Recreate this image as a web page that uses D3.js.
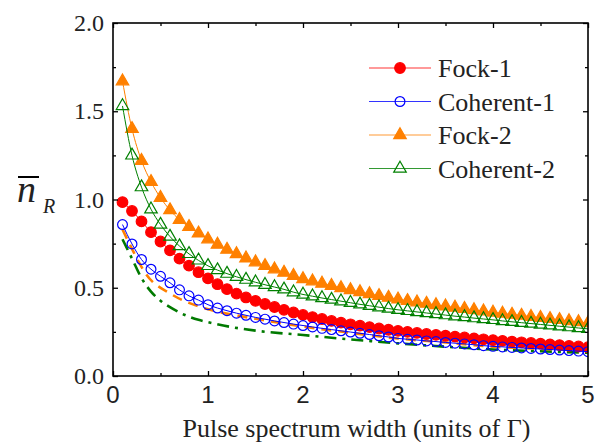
<!DOCTYPE html>
<html>
<head>
<meta charset="utf-8">
<script src="https://cdn.jsdelivr.net/npm/d3@7"></script>
<style>
  html, body { margin: 0; padding: 0; background: #fff; }
  svg { display: block; }
</style>
</head>
<body>
<svg id="chart" width="606" height="442"></svg>
<script>
// pulse widths 0.1 .. 5.0
const WIDTHS = [
  0.1, 0.2, 0.3, 0.4, 0.5, 0.6, 0.7, 0.8, 0.9, 1.0,
  1.1, 1.2, 1.3, 1.4, 1.5, 1.6, 1.7, 1.8, 1.9, 2.0,
  2.1, 2.2, 2.3, 2.4, 2.5, 2.6, 2.7, 2.8, 2.9, 3.0,
  3.1, 3.2, 3.3, 3.4, 3.5, 3.6, 3.7, 3.8, 3.9, 4.0,
  4.1, 4.2, 4.3, 4.4, 4.5, 4.6, 4.7, 4.8, 4.9, 5.0
];

const FOCK_1 = [
  0.985, 0.935, 0.876, 0.815, 0.762, 0.712, 0.665, 0.625, 0.588, 0.553,
  0.520, 0.492, 0.467, 0.445, 0.426, 0.408, 0.391, 0.375, 0.360, 0.346,
  0.334, 0.323, 0.312, 0.302, 0.293, 0.285, 0.277, 0.269, 0.262, 0.256,
  0.250, 0.244, 0.238, 0.233, 0.228, 0.223, 0.218, 0.213, 0.208, 0.203,
  0.199, 0.195, 0.191, 0.187, 0.183, 0.179, 0.175, 0.171, 0.167, 0.163
];

const COHERENT_1 = [
  0.858, 0.748, 0.660, 0.605, 0.565, 0.528, 0.488, 0.454, 0.430, 0.404,
  0.385, 0.370, 0.356, 0.344, 0.332, 0.322, 0.312, 0.303, 0.294, 0.286,
  0.278, 0.270, 0.263, 0.256, 0.249, 0.242, 0.235, 0.228, 0.221, 0.213,
  0.208, 0.204, 0.199, 0.195, 0.190, 0.186, 0.182, 0.177, 0.172, 0.168,
  0.165, 0.162, 0.159, 0.156, 0.153, 0.150, 0.147, 0.144, 0.141, 0.138
];

const FOCK_2 = [
  1.670, 1.400, 1.220, 1.100, 1.010, 0.940, 0.885, 0.845, 0.808, 0.775,
  0.745, 0.716, 0.691, 0.667, 0.645, 0.624, 0.605, 0.586, 0.568, 0.550,
  0.537, 0.524, 0.511, 0.499, 0.487, 0.476, 0.465, 0.454, 0.444, 0.434,
  0.426, 0.418, 0.410, 0.402, 0.395, 0.388, 0.381, 0.374, 0.367, 0.360,
  0.354, 0.348, 0.342, 0.336, 0.330, 0.324, 0.318, 0.312, 0.306, 0.300
];

const COHERENT_2 = [
  1.530, 1.250, 1.070, 0.945, 0.858, 0.790, 0.736, 0.692, 0.655, 0.624,
  0.600, 0.580, 0.562, 0.546, 0.531, 0.517, 0.504, 0.491, 0.475, 0.462,
  0.452, 0.442, 0.433, 0.424, 0.415, 0.406, 0.398, 0.390, 0.382, 0.375,
  0.369, 0.363, 0.357, 0.351, 0.345, 0.339, 0.334, 0.328, 0.323, 0.318,
  0.312, 0.307, 0.302, 0.297, 0.292, 0.287, 0.282, 0.277, 0.272, 0.267
];

// the two reference curves without markers
const DASH_X = [0.1, 0.2, 0.35, 0.6, 0.87, 1.06, 1.3, 1.55, 2.0, 2.5, 3.0, 3.5, 4.0, 4.5, 5.0];
const ORANGE_DASH = [0.830, 0.720, 0.575, 0.468, 0.400, 0.370, 0.343, 0.320, 0.280, 0.245, 0.212, 0.190, 0.166, 0.154, 0.145];

const DASHDOT_X = [0.1, 0.2, 0.3, 0.4, 0.5, 0.6, 0.7, 0.8, 0.9, 1.0, 1.25, 1.5, 2.0, 2.5, 3.0, 3.5, 4.0, 4.5, 5.0];
const GREEN_DASHDOT = [0.775, 0.665, 0.555, 0.478, 0.427, 0.390, 0.360, 0.336, 0.318, 0.305, 0.277, 0.257, 0.232, 0.207, 0.185, 0.166, 0.150, 0.140, 0.132];

const X_TICKS = [0, 1, 2, 3, 4, 5];
const Y_TICKS = ['0.0', '0.5', '1.0', '1.5', '2.0'];

const SERIES = [
  { name: 'Fock-1', values: FOCK_1, color: '#ff0000', shape: 'circle', filled: true },
  { name: 'Coherent-1', values: COHERENT_1, color: '#0000ff', shape: 'circle', filled: false },
  { name: 'Fock-2', values: FOCK_2, color: '#ff8000', shape: 'triangle', filled: true },
  { name: 'Coherent-2', values: COHERENT_2, color: '#008000', shape: 'triangle', filled: false }
];

const SERIF = '"Liberation Serif", "Times New Roman", serif';
const SANS = '"Liberation Sans", Arial, sans-serif';

const plot = { left: 113, right: 588, top: 23, bottom: 376 };

function drawChart() {
  const svg = d3.select('#chart');

  const x = d3.scaleLinear().domain([0, 5]).range([plot.left, plot.right]);
  const y = d3.scaleLinear().domain([0, 2]).range([plot.bottom, plot.top]);

  const line = d3.line()
    .x(d => x(d[0]))
    .y(d => y(d[1]))
    .curve(d3.curveMonotoneX);

  const clip = svg.append('defs').append('clipPath').attr('id', 'plot-clip');
  clip.append('rect')
    .attr('x', plot.left).attr('y', plot.top)
    .attr('width', plot.right - plot.left).attr('height', plot.bottom - plot.top);

  const area = svg.append('g').attr('clip-path', 'url(#plot-clip)');

  // garis referensi (putus-putus)
  area.append('path')
    .datum(d3.zip(DASHDOT_X, GREEN_DASHDOT))
    .attr('d', line)
    .attr('fill', 'none')
    .attr('stroke', '#007a00')
    .attr('stroke-width', 2.6)
    .attr('stroke-dasharray', '12,6,3,6');

  area.append('path')
    .datum(d3.zip(DASH_X, ORANGE_DASH))
    .attr('d', line)
    .attr('fill', 'none')
    .attr('stroke', '#ff8000')
    .attr('stroke-width', 2.6)
    .attr('stroke-dasharray', '10,7');

  const triangle = d3.symbol().type(d3.symbolTriangle).size(68);

  SERIES.forEach(s => {
    const pts = d3.zip(WIDTHS, s.values);
    area.append('path')
      .datum(pts)
      .attr('d', line)
      .attr('fill', 'none')
      .attr('stroke', s.color)
      .attr('stroke-width', 1);

    drawMarkers(area, pts.map(p => [x(p[0]), y(p[1])]), s, triangle);
  });

  drawAxes(svg, x, y);
  drawLegend(svg, triangle);
}

function drawMarkers(g, points, s, triangle) {
  const fill = s.filled ? s.color : 'none';
  if (s.shape === 'circle') {
    g.selectAll(null).data(points).enter().append('circle')
      .attr('cx', d => d[0])
      .attr('cy', d => d[1])
      .attr('r', s.filled ? 5.3 : 4.9)
      .attr('fill', fill)
      .attr('stroke', s.color)
      .attr('stroke-width', 1.2);
  } else {
    g.selectAll(null).data(points).enter().append('path')
      .attr('d', triangle)
      .attr('transform', d => `translate(${d[0]},${d[1]})`)
      .attr('fill', fill)
      .attr('stroke', s.color)
      .attr('stroke-width', 1.2);
  }
}

function drawAxes(svg, x, y) {
  const major = 5, minor = 3;

  // sumbu bawah dan atas, tick mengarah ke dalam
  svg.append('g')
    .attr('transform', `translate(0,${plot.bottom})`)
    .call(d3.axisBottom(x).tickValues(d3.range(0, 5.01, 0.5)).tickSize(-major).tickFormat(''))
    .call(g => g.selectAll('.tick line').attr('y2', d => Number.isInteger(d) ? -major : -minor));
  svg.append('g')
    .attr('transform', `translate(0,${plot.top})`)
    .call(d3.axisTop(x).tickValues(d3.range(0, 5.01, 0.5)).tickSize(-major).tickFormat(''))
    .call(g => g.selectAll('.tick line').attr('y2', d => Number.isInteger(d) ? major : minor));

  svg.append('g')
    .attr('transform', `translate(${plot.left},0)`)
    .call(d3.axisLeft(y).tickValues(d3.range(0, 2.01, 0.25)).tickSize(-major).tickFormat(''))
    .call(g => g.selectAll('.tick line').attr('x2', d => Math.abs(d * 2 - Math.round(d * 2)) < 1e-6 ? major : minor));
  svg.append('g')
    .attr('transform', `translate(${plot.right},0)`)
    .call(d3.axisRight(y).tickValues(d3.range(0, 2.01, 0.25)).tickSize(-major).tickFormat(''))
    .call(g => g.selectAll('.tick line').attr('x2', d => Math.abs(d * 2 - Math.round(d * 2)) < 1e-6 ? -major : -minor));

  svg.selectAll('.domain').remove();
  svg.selectAll('.tick line').attr('stroke', '#000').attr('stroke-width', 1.3);

  // bingkai
  svg.append('rect')
    .attr('x', plot.left).attr('y', plot.top)
    .attr('width', plot.right - plot.left).attr('height', plot.bottom - plot.top)
    .attr('fill', 'none').attr('stroke', '#000').attr('stroke-width', 1.6);

  // label tick
  svg.append('g').selectAll('text').data(X_TICKS).enter().append('text')
    .attr('x', d => x(d))
    .attr('y', 403)
    .attr('text-anchor', 'middle')
    .style('font-family', SANS)
    .style('font-size', '24px')
    .style('fill', '#222')
    .text(d => d);

  svg.append('g').selectAll('text').data(Y_TICKS).enter().append('text')
    .attr('x', 104)
    .attr('y', d => y(+d) + 8)
    .attr('text-anchor', 'end')
    .style('font-family', SERIF)
    .style('font-size', '24px')
    .style('fill', '#222')
    .text(d => d);

  // judul sumbu
  svg.append('text')
    .attr('x', (plot.left + plot.right) / 2 + 6)
    .attr('y', 437)
    .attr('text-anchor', 'middle')
    .style('font-family', SERIF)
    .style('font-size', '26px')
    .style('fill', '#222')
    .text('Pulse spectrum width (units of Γ)');

  const yl = svg.append('text')
    .attr('x', 17)
    .attr('y', 202)
    .style('font-family', SERIF)
    .style('font-style', 'italic')
    .style('fill', '#222');
  yl.append('tspan').style('font-size', '38px').text('n');
  yl.append('tspan').attr('x', 43).attr('y', 213).style('font-size', '20px').text('R');
  svg.append('line')
    .attr('x1', 18).attr('x2', 39)
    .attr('y1', 177).attr('y2', 177)
    .attr('stroke', '#000').attr('stroke-width', 2);
}

function drawLegend(svg, triangle) {
  const legend = svg.append('g').attr('class', 'legend');
  const rowY = [68, 101.5, 135, 168.5];

  SERIES.forEach((s, i) => {
    const row = legend.append('g').attr('transform', `translate(0,${rowY[i]})`);
    row.append('line')
      .attr('x1', 369).attr('x2', 431)
      .attr('stroke', s.color).attr('stroke-width', 1.2).attr('stroke-opacity', 0.8);
    drawMarkers(row, [[400, 0]], s, triangle);
    row.append('text')
      .attr('x', 438)
      .attr('y', 9)
      .style('font-family', SERIF)
      .style('font-size', '26px')
      .style('fill', '#222')
      .text(s.name);
  });
}

drawChart();
</script>
</body>
</html>
